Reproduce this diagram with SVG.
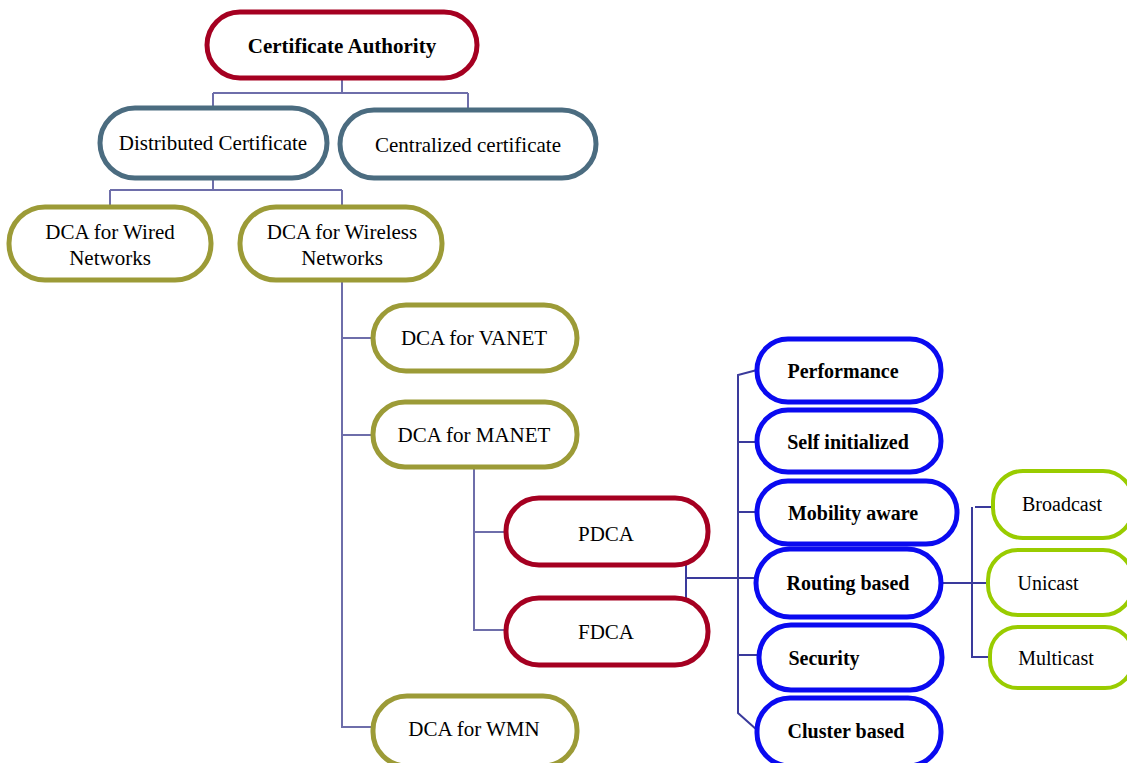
<svg xmlns="http://www.w3.org/2000/svg" width="1127" height="763" viewBox="0 0 1127 763">
<style>
.n{fill:#fff;stroke-width:5}
.red{stroke:#A50021}
.steel{stroke:#4B6C80}
.olive{stroke:#9C9B37}
.blue{stroke:#0A0AF0}
.green{stroke:#99CC00;stroke-width:4}
text{font-size:21px;fill:#000;text-anchor:middle}
.b{font-weight:bold}
.s{font-size:20px}
.c1{fill:none;stroke:#6E6EAA;stroke-width:2}
.c2{fill:none;stroke:#3A3A9C;stroke-width:2}
</style>
<rect width="1127" height="763" fill="#fff"/>
<g id="connectors">
<path class="c1" d="M342 78V93M213 93H468M213 93V108M468 93V110"/>
<path class="c1" d="M213 178V190M110 190H342M110 190V207M342 190V207"/>
<path class="c1" d="M342 280V727H373M342 338H373M342 435H373"/>
<path class="c1" d="M474 467V630H506M474 532H506"/>
<path class="c2" d="M686 563V598M686 578H757"/>
<path class="c2" d="M757 370L738 375V713L757 730M738 442H757M738 512H757M738 655H759"/>
<path class="c2" d="M941 583L988 583M975 507H993M972 507V657H990"/>
</g>
<g font-family="Liberation Serif, Tinos, Times New Roman, DejaVu Serif, serif">
<g id="ca"><rect class="n red" x="207" y="12" width="270" height="66" rx="33"/><text class="b" x="342" y="53">Certificate Authority</text></g>
<g id="distributed"><rect class="n steel" x="100" y="108" width="227" height="70" rx="35"/><text x="213" y="150">Distributed Certificate</text></g>
<g id="centralized"><rect class="n steel" x="340" y="110" width="256" height="68" rx="34"/><text x="468" y="152">Centralized certificate</text></g>
<g id="wired"><rect class="n olive" x="9" y="207" width="202" height="73" rx="36"/><text x="110" y="239">DCA for Wired</text><text x="110" y="265">Networks</text></g>
<g id="wireless"><rect class="n olive" x="240" y="207" width="202" height="73" rx="36"/><text x="342" y="239">DCA for Wireless</text><text x="342" y="265">Networks</text></g>
<g id="vanet"><rect class="n olive" x="373" y="305" width="204" height="66" rx="33"/><text x="474" y="345">DCA for VANET</text></g>
<g id="manet"><rect class="n olive" x="373" y="402" width="204" height="65" rx="32"/><text x="474" y="442">DCA for MANET</text></g>
<g id="pdca"><rect class="n red" x="506" y="498" width="202" height="67" rx="33"/><text x="606" y="541">PDCA</text></g>
<g id="fdca"><rect class="n red" x="506" y="598" width="202" height="67" rx="33"/><text x="606" y="639">FDCA</text></g>
<g id="wmn"><rect class="n olive" x="373" y="696" width="204" height="70" rx="34"/><text x="474" y="736">DCA for WMN</text></g>
<g id="performance"><rect class="n blue" x="757" y="339" width="184" height="63" rx="31"/><text class="b s" x="843" y="378">Performance</text></g>
<g id="selfinit"><rect class="n blue" x="757" y="410" width="184" height="62" rx="31"/><text class="b s" x="848" y="449">Self initialized</text></g>
<g id="mobility"><rect class="n blue" x="757" y="481" width="200" height="63" rx="31"/><text class="b s" x="853" y="520">Mobility aware</text></g>
<g id="routing"><rect class="n blue" x="756" y="549" width="185" height="68" rx="34"/><text class="b s" x="848" y="590">Routing based</text></g>
<g id="security"><rect class="n blue" x="759" y="625" width="183" height="65" rx="32"/><text class="b s" x="824" y="665">Security</text></g>
<g id="cluster"><rect class="n blue" x="757" y="698" width="184" height="68" rx="33"/><text class="b s" x="846" y="738">Cluster based</text></g>
<g id="broadcast"><rect class="n green" x="993" y="471" width="140" height="67" rx="30"/><text class="s" x="1062" y="511">Broadcast</text></g>
<g id="unicast"><rect class="n green" x="988" y="550" width="145" height="65" rx="30"/><text class="s" x="1048" y="590">Unicast</text></g>
<g id="multicast"><rect class="n green" x="990" y="627" width="143" height="61" rx="28"/><text class="s" x="1056" y="665">Multicast</text></g>
</g>
</svg>
